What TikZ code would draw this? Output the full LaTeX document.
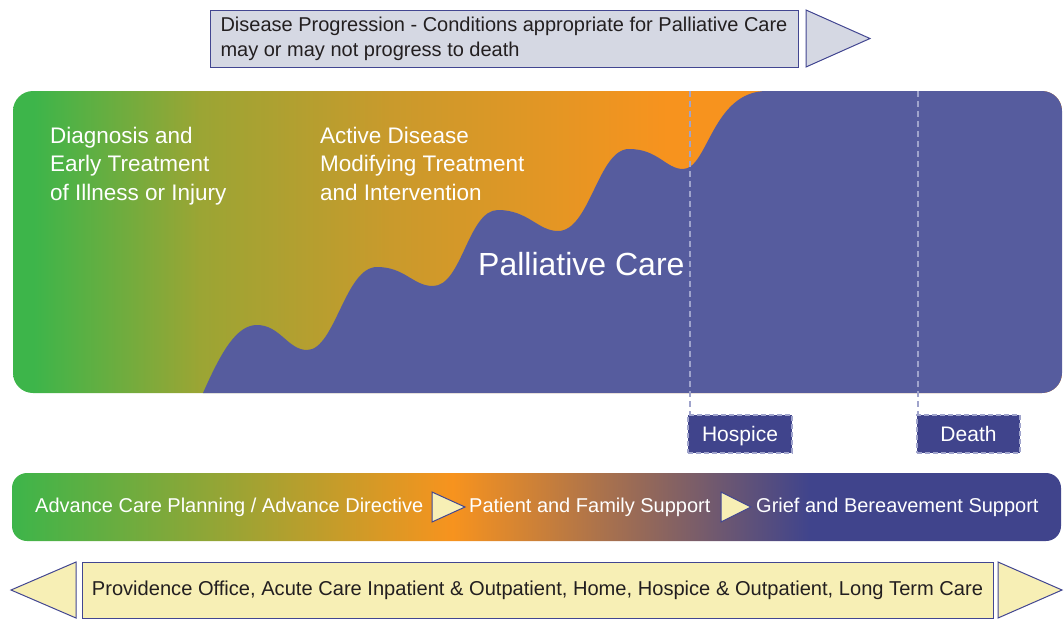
\documentclass[tikz,border=0pt]{standalone}
\usepackage{fontspec}
\setmainfont{Liberation Sans}
\definecolor{pgreen}{RGB}{61,181,74}
\definecolor{polive}{RGB}{155,165,52}
\definecolor{pgold}{RGB}{201,154,44}
\definecolor{porange}{RGB}{247,147,30}
\definecolor{ppurple}{RGB}{86,92,158}
\definecolor{pnavy}{RGB}{64,68,140}
\definecolor{pgrey}{RGB}{213,216,227}
\definecolor{pyellow}{RGB}{247,239,181}
\definecolor{pline}{RGB}{66,70,145}
\definecolor{pdash}{RGB}{160,164,204}
\definecolor{ptext}{RGB}{35,31,32}
\pgfdeclarehorizontalshading{stageshade}{100bp}{color(0bp)=(pgreen); color(26bp)=(pgreen); color(33.9bp)=(polive); color(43bp)=(pgold); color(56.2bp)=(porange); color(100bp)=(porange)}
\pgfdeclarehorizontalshading{barshade}{100bp}{color(0bp)=(pgreen); color(25bp)=(pgreen); color(46bp)=(porange); color(63bp)=(pnavy); color(100bp)=(pnavy)}
\begin{document}
\begin{tikzpicture}[x=1pt,y=-1pt,
    greybox/.style={draw=pline,fill=pgrey,line width=1pt},
    yellowbox/.style={draw=pline,fill=pyellow,line width=1pt},
    markbox/.style={draw=pdash,dash pattern=on 5pt off 3pt,fill=pnavy,line width=1.4pt,minimum height=38pt,inner sep=0pt,text height=15pt,text depth=0pt,text=white,font=\fontsize{21}{25}\selectfont},
    guide/.style={draw=pdash,dash pattern=on 6pt off 4pt,line width=1.2pt},
    whitetext/.style={text=white,inner sep=0pt,align=left,font=\fontsize{22.5}{28.5}\selectfont},
    bartext/.style={text=white,inner sep=0pt,anchor=west,font=\fontsize{20}{24}\selectfont}]
    \useasboundingbox (0,0) rectangle (1064,622);
    % disease progression arrow
    \node[greybox,minimum width=588pt,minimum height=57pt,align=left,inner sep=0pt,text=ptext,font=\fontsize{20}{25}\selectfont] (prog) at (504,38.5) {Disease Progression - Conditions appropriate for Palliative Care\\may or may not progress to death};
    \draw[greybox] (806,10) -- (870,38.5) -- (806,67) -- cycle;
    % stages
    \begin{scope}
        \clip[rounded corners=20pt] (13,91) rectangle (1062,393);
        \shade[shading=stageshade] (13,91) rectangle (1062,393);
        \fill[ppurple] (196,405) -- (203,393) .. controls (222,350) and (237,325) .. (257,325)
            .. controls (280,325) and (288,350) .. (307,350)
            .. controls (335,350) and (345,267) .. (377,267)
            .. controls (405,267) and (413,286) .. (433,286)
            .. controls (462,286) and (468,210) .. (498,210)
            .. controls (528,210) and (538,231) .. (558,231)
            .. controls (590,231) and (598,149) .. (629,149)
            .. controls (658,149) and (666,169) .. (683,169)
            .. controls (708,169) and (712,91) .. (767,91)
            -- (1070,91) -- (1070,405) -- cycle;
    \end{scope}
    \node[whitetext,anchor=north west] (diag) at (50,126.5) {Diagnosis and\\Early Treatment\\of Illness or Injury};
    \node[whitetext,anchor=north west] (active) at (320,126.5) {Active Disease\\Modifying Treatment\\and Intervention};
    \node[text=white,inner sep=0pt,anchor=base west,font=\fontsize{32}{36}\selectfont] (pall) at (478,275) {Palliative Care};
    % hospice and death
    \node[markbox,minimum width=104pt] (hospice) at (740,434) {Hospice};
    \node[markbox,minimum width=103pt] (death) at (968.5,434) {Death};
    \coordinate (htop) at (690,91);
    \coordinate (dtop) at (918,91);
    \draw[guide] (htop) -- (htop |- hospice.north);
    \draw[guide] (dtop) -- (dtop |- death.north);
    % support bar
    \shade[shading=barshade,rounded corners=15pt] (12,473) rectangle (1061,541);
    \node[bartext] (plan) at (35,507) {Advance Care Planning / Advance Directive};
    \draw[yellowbox] (432,492) -- (465,507) -- (432,522) -- cycle;
    \node[bartext] (family) at (469,507) {Patient and Family Support};
    \draw[yellowbox] (721,492) -- (751,507) -- (721,522) -- cycle;
    \node[bartext] (grief) at (756,507) {Grief and Bereavement Support};
    % settings
    \node[yellowbox,minimum width=911pt,minimum height=56pt,inner sep=0pt,text=ptext,font=\fontsize{20.1}{24}\selectfont] (sites) at (537.5,590) {Providence Office, Acute Care Inpatient \& Outpatient, Home, Hospice \& Outpatient, Long Term Care};
    \draw[yellowbox] (76,562) -- (11,590) -- (76,618) -- cycle;
    \draw[yellowbox] (998,562) -- (1062,590) -- (998,618) -- cycle;
\end{tikzpicture}
\end{document}
